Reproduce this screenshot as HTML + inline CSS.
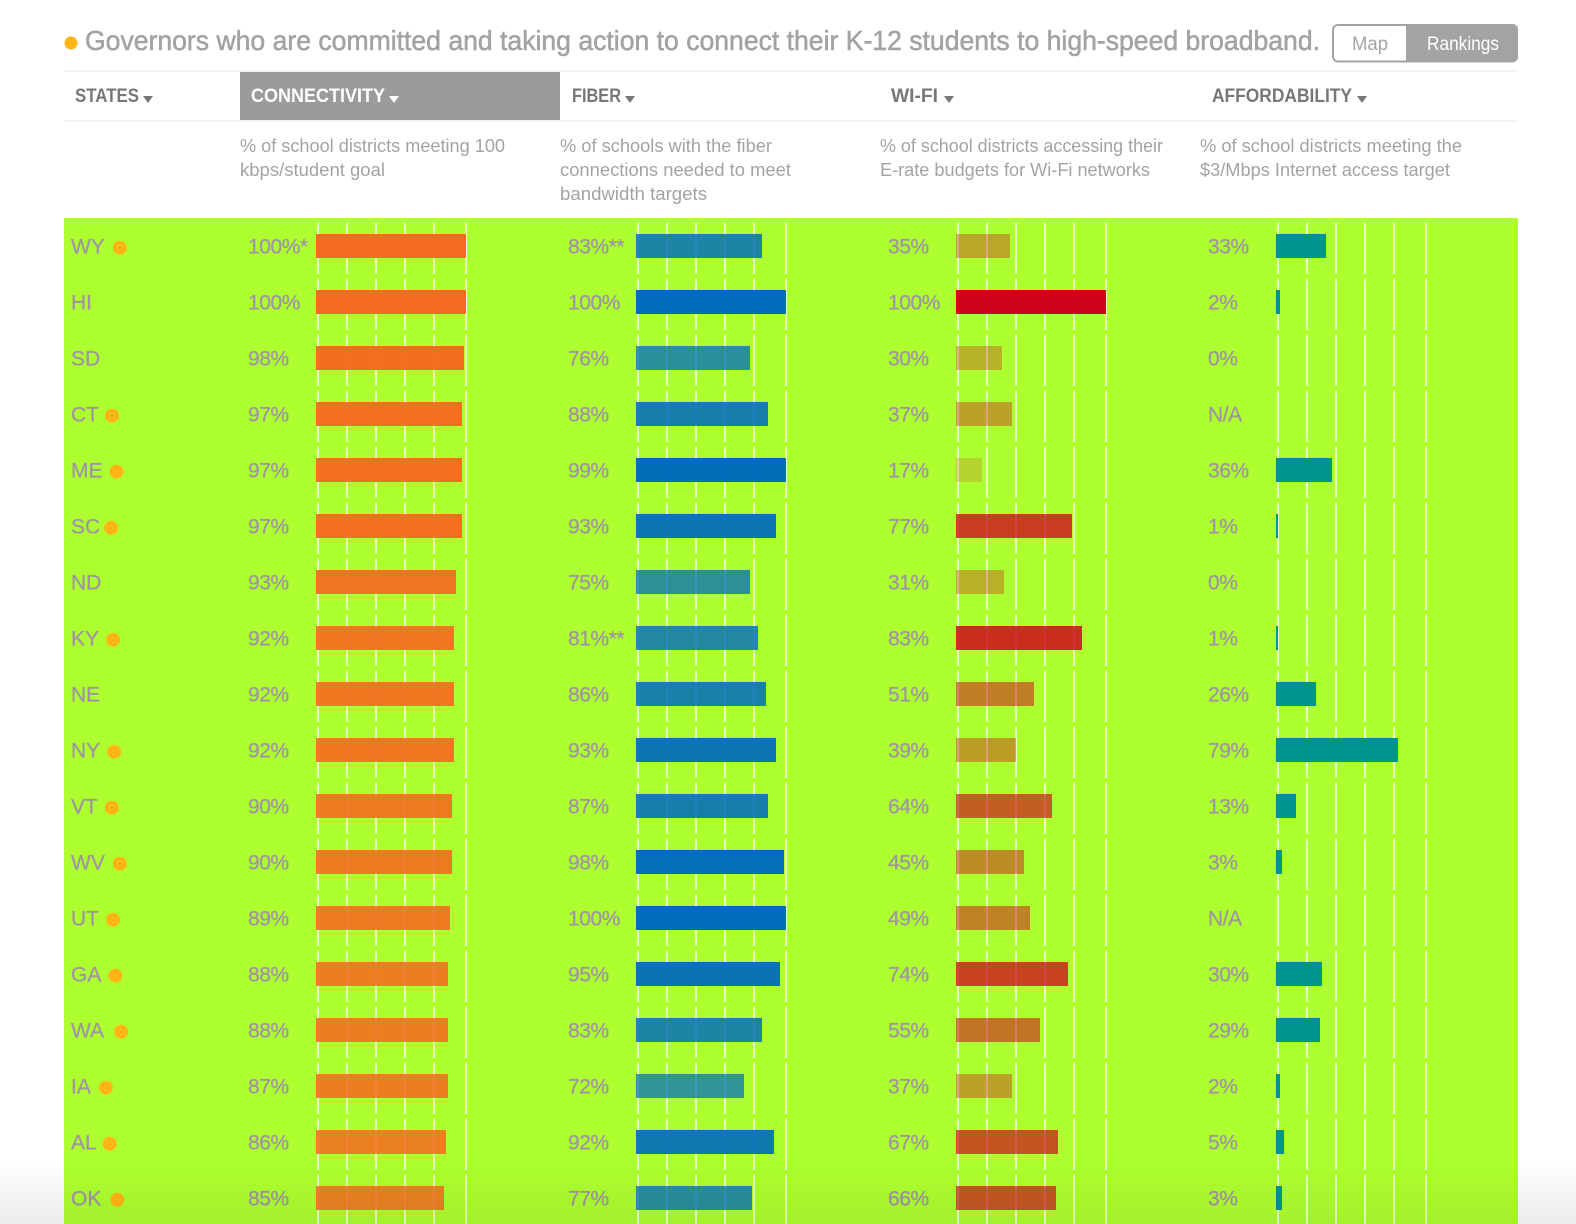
<!DOCTYPE html>
<html lang="en">
<head>
<meta charset="utf-8">
<title>Governors broadband rankings</title>
<style>
html,body{margin:0;padding:0;background:#fff;width:1576px;height:1224px;overflow:hidden}
svg{display:block}
text{font-family:"Liberation Sans",sans-serif}
</style>
</head>
<body>
<svg id="chart" xmlns="http://www.w3.org/2000/svg" width="1576" height="1224" viewBox="0 0 1576 1224">
  <defs>
    <linearGradient id="fade-margin" x1="0" y1="0" x2="0" y2="1">
      <stop offset="0" stop-color="#000" stop-opacity="0"/>
      <stop offset="1" stop-color="#000" stop-opacity="0.08"/>
    </linearGradient>
    <linearGradient id="fade-green" x1="0" y1="0" x2="0" y2="1">
      <stop offset="0" stop-color="#000" stop-opacity="0"/>
      <stop offset="1" stop-color="#000" stop-opacity="0.055"/>
    </linearGradient>
  </defs>

  <circle cx="71" cy="43" r="6.5" fill="#ffb514"/>
  <text x="85" y="50" font-size="28" fill="#a3a3a3" stroke="#a3a3a3" stroke-width="0.55" textLength="1235" lengthAdjust="spacingAndGlyphs">Governors who are committed and taking action to connect their K-12 students to high-speed broadband.</text>

  <g>
    <rect x="1333" y="25" width="184" height="36.5" rx="5" fill="#fff" stroke="#a3a3a3" stroke-width="2"/>
    <path d="M1406 24h107a5 5 0 0 1 5 5v28a5 5 0 0 1-5 5h-107z" fill="#a3a3a3"/>
    <text x="1352" y="50" font-size="19" fill="#a3a3a3" textLength="36" lengthAdjust="spacingAndGlyphs">Map</text>
    <text x="1427" y="50" font-size="19" fill="#fff" textLength="72" lengthAdjust="spacingAndGlyphs">Rankings</text>
  </g>

  <rect x="64" y="70" width="1454" height="2" fill="#f4f4f4"/>
  <rect x="64" y="120" width="1454" height="2" fill="#f4f4f4"/>
  <rect x="240" y="72" width="320" height="48" fill="#9b9b9b"/>

  <g font-size="19.5" font-weight="700">
    <text x="75" y="102" fill="#777" textLength="64" lengthAdjust="spacingAndGlyphs">STATES</text>
    <text x="251" y="102" fill="#fff" textLength="134" lengthAdjust="spacingAndGlyphs">CONNECTIVITY</text>
    <text x="572" y="102" fill="#777" textLength="49" lengthAdjust="spacingAndGlyphs">FIBER</text>
    <text x="891" y="102" fill="#777" textLength="47" lengthAdjust="spacingAndGlyphs">WI-FI</text>
    <text x="1212" y="102" fill="#777" textLength="140" lengthAdjust="spacingAndGlyphs">AFFORDABILITY</text>
  </g>
  <polygon points="143,96 153,96 148,103" fill="#777"/>
  <polygon points="389,96 399,96 394,103" fill="#fff"/>
  <polygon points="625,96 635,96 630,103" fill="#777"/>
  <polygon points="944,96 954,96 949,103" fill="#777"/>
  <polygon points="1357,96 1367,96 1362,103" fill="#777"/>

  <g font-size="18" fill="#a3a3a3">
    <text x="240" y="152" textLength="265" lengthAdjust="spacingAndGlyphs">% of school districts meeting 100</text>
    <text x="240" y="176" textLength="145" lengthAdjust="spacingAndGlyphs">kbps/student goal</text>
    <text x="560" y="152" textLength="212" lengthAdjust="spacingAndGlyphs">% of schools with the fiber</text>
    <text x="560" y="176" textLength="231" lengthAdjust="spacingAndGlyphs">connections needed to meet</text>
    <text x="560" y="200" textLength="147" lengthAdjust="spacingAndGlyphs">bandwidth targets</text>
    <text x="880" y="152" textLength="283" lengthAdjust="spacingAndGlyphs">% of school districts accessing their</text>
    <text x="880" y="176" textLength="270" lengthAdjust="spacingAndGlyphs">E-rate budgets for Wi-Fi networks</text>
    <text x="1200" y="152" textLength="262" lengthAdjust="spacingAndGlyphs">% of school districts meeting the</text>
    <text x="1200" y="176" textLength="250" lengthAdjust="spacingAndGlyphs">$3/Mbps Internet access target</text>
  </g>

  <rect x="64" y="218" width="1454" height="1006" fill="#adff2f"/>
  <g id="rows"></g>
  <rect x="0" y="1158" width="64" height="66" fill="url(#fade-margin)"/>
  <rect x="1518" y="1158" width="58" height="66" fill="url(#fade-margin)"/>
  <rect x="64" y="1158" width="1454" height="66" fill="url(#fade-green)"/>
</svg>

<script>
var states = ['WY','HI','SD','CT','ME','SC','ND','KY','NE','NY','VT','WV','UT','GA','WA','IA','AL','OK'];
var committed = ['WY','CT','ME','SC','KY','NY','VT','WV','UT','GA','WA','IA','AL','OK'];
var connectivityValues = [100,100,98,97,97,97,93,92,92,92,90,90,89,88,88,87,86,85];
var fiberValues = [83,100,76,88,99,93,75,81,86,93,87,98,100,95,83,72,92,77];
var wifiValues = [35,100,30,37,17,77,31,83,51,39,64,45,49,74,55,37,67,66];
var affordabilityValues = [33,2,0,null,36.9,1,0,1,26,80.7,13,3,null,30,29,2,5,3];
var connectivityNotes = {WY:'*'};
var fiberNotes = {WY:'**',KY:'**'};
var affordabilityPrinted = {NY:'79%'};
var gridTicks = [0,20,40,60,80,100];

var svgNS = 'http://www.w3.org/2000/svg';
var rowsGroup = document.getElementById('rows');

var ROW_PITCH = 56, FIRST_CENTER = 246, BAR_H = 24, BAR_MAX = 150;
var TEXT_COLOR = '#a096a0';
var dotNudge = {WY:1,CT:-1,SC:-3,WV:1,WA:3,IA:1,AL:-1,OK:2};
var columns = [
  {key:'connectivity', values:connectivityValues, notes:connectivityNotes, printed:{}, x0:316, textX:248, color:'#f56b1f', fade:true},
  {key:'fiber', values:fiberValues, notes:fiberNotes, printed:{}, x0:636, textX:568, color:'#006cbb', fade:true},
  {key:'wifi', values:wifiValues, notes:{}, printed:{}, x0:956, textX:888, color:'#d0021b', fade:true},
  {key:'affordability', values:affordabilityValues, notes:{}, printed:affordabilityPrinted, x0:1276, textX:1208, color:'#00948f', fade:false}
];

function rowY(i){ return FIRST_CENTER + ROW_PITCH * i; }
function barWidth(v){ return Math.ceil((v / 100) * BAR_MAX / 2) * 2; }
function tickX(x0, t){ return t === 100 ? x0 + BAR_MAX : x0 + 2 + t * 1.45; }
function make(tag, parent){
  var el = document.createElementNS(svgNS, tag);
  parent.appendChild(el);
  return el;
}

states.forEach(function(state, i){
  var cy = rowY(i);
  var row = make('g', rowsGroup);
  
  

  var label = make('text', row);
  
  
  label.setAttribute('x', 71);
  label.setAttribute('y', cy + 7.5);
  label.setAttribute('font-size', 21);
  label.setAttribute('fill', TEXT_COLOR);
  label.setAttribute('stroke', TEXT_COLOR);
  label.setAttribute('stroke-width', 0.35);
  label.textContent = state;

  if (committed.indexOf(state) >= 0) {
    var dot = make('circle', row);
    
    
    var textW = label.getComputedTextLength();
    dot.setAttribute('cx', 71 + textW + 14 + (dotNudge[state] || 0));
    dot.setAttribute('cy', cy + 1.7);
    dot.setAttribute('r', 7);
    dot.setAttribute('fill', '#ffb514');
  }

  columns.forEach(function(col){
    gridTicks.forEach(function(t){
      var line = make('rect', row);
      
      
      line.setAttribute('x', tickX(col.x0, t) - 0.8);
      line.setAttribute('y', cy - 23);
      line.setAttribute('width', 1.6);
      line.setAttribute('height', 51);
      line.setAttribute('fill', '#fff');
      line.setAttribute('fill-opacity', 0.85);
    });

    var v = col.values[i];
    var valueText = make('text', row);
    
    
    valueText.setAttribute('x', col.textX);
    valueText.setAttribute('y', cy + 7.5);
    valueText.setAttribute('font-size', 21);
    valueText.setAttribute('letter-spacing', -0.45);
    valueText.setAttribute('fill', TEXT_COLOR);
    valueText.setAttribute('stroke', TEXT_COLOR);
    valueText.setAttribute('stroke-width', 0.35);
    valueText.textContent = v === null ? 'N/A' : (col.printed[state] || (Math.floor(v) + '%' + (col.notes[state] || '')));

    if (v !== null && v > 0) {
      var bar = make('rect', row);
      
      
      bar.setAttribute('x', col.x0);
      bar.setAttribute('y', cy - BAR_H / 2);
      bar.setAttribute('width', barWidth(v));
      bar.setAttribute('height', BAR_H);
      bar.setAttribute('fill', col.color);
      bar.setAttribute('fill-opacity', col.fade ? v / 100 : 1);
    }
  });
});
</script>
</body>
</html>
